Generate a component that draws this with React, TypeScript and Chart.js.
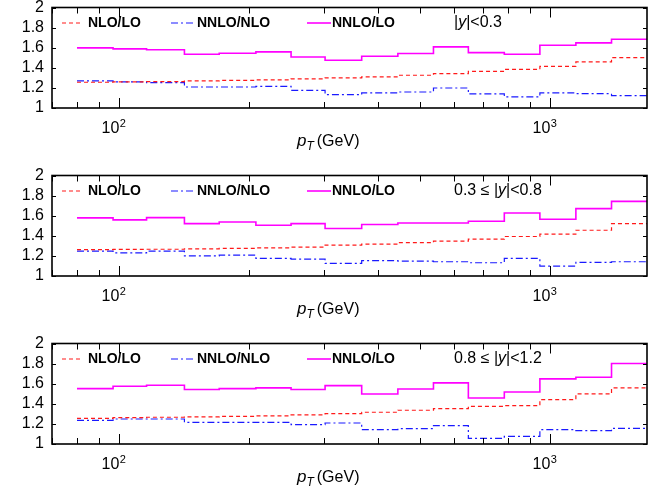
import React, { useEffect, useRef } from 'react';
import { Chart, registerables } from 'chart.js';

Chart.register(...registerables);

// pT bin edges (GeV), 16 bins
const BIN_EDGES = [80, 97, 116, 142, 171, 208, 251, 301, 366, 444, 537, 647, 784, 948, 1149, 1390, 1680];
const X_MIN = 70;
const X_MAX = 1680;
const X_TICKS = [70, 80, 90, 100, 200, 300, 400, 500, 600, 700, 800, 900, 1000];
const Y_MIN = 1;
const Y_MAX = 2;
const Y_STEP = 0.2;

const SERIES_NAMES = ['NLO/LO', 'NNLO/NLO', 'NNLO/LO'];
const X_TITLE_MAIN = 'p';
const X_TITLE_SUB = 'T';
const X_TITLE_UNIT = '(GeV)';

// rapidity label: prefix + |y| + suffix
const RAPIDITY_PRE = ['', '0.3 ≤ ', '0.8 ≤ '];
const RAPIDITY_POST = ['<0.3', '<0.8', '<1.2'];

// |y| < 0.3
const NLO_LO_1 = [1.256, 1.259, 1.263, 1.269, 1.274, 1.279, 1.289, 1.299, 1.309, 1.326, 1.342, 1.365, 1.385, 1.415, 1.458, 1.502];
const NNLO_NLO_1 = [1.269, 1.259, 1.252, 1.209, 1.209, 1.216, 1.176, 1.133, 1.150, 1.159, 1.199, 1.140, 1.110, 1.150, 1.143, 1.123];
const NNLO_LO_1 = [1.598, 1.588, 1.580, 1.535, 1.545, 1.558, 1.508, 1.475, 1.515, 1.542, 1.608, 1.551, 1.535, 1.625, 1.648, 1.684];

// 0.3 <= |y| < 0.8
const NLO_LO_2 = [1.262, 1.264, 1.266, 1.270, 1.274, 1.280, 1.287, 1.307, 1.317, 1.333, 1.347, 1.366, 1.393, 1.416, 1.455, 1.521];
const NNLO_NLO_2 = [1.248, 1.231, 1.248, 1.201, 1.208, 1.175, 1.168, 1.125, 1.152, 1.149, 1.142, 1.132, 1.175, 1.099, 1.135, 1.142];
const NNLO_LO_2 = [1.578, 1.558, 1.581, 1.521, 1.538, 1.505, 1.521, 1.472, 1.512, 1.528, 1.528, 1.545, 1.627, 1.564, 1.670, 1.743];

// 0.8 <= |y| < 1.2
const NLO_LO_3 = [1.255, 1.262, 1.266, 1.270, 1.274, 1.280, 1.290, 1.302, 1.316, 1.336, 1.352, 1.375, 1.382, 1.442, 1.498, 1.558];
const NNLO_NLO_3 = [1.236, 1.249, 1.249, 1.216, 1.216, 1.216, 1.193, 1.209, 1.143, 1.153, 1.183, 1.056, 1.076, 1.143, 1.133, 1.156];
const NNLO_LO_3 = [1.551, 1.575, 1.585, 1.542, 1.551, 1.558, 1.542, 1.581, 1.498, 1.548, 1.608, 1.458, 1.518, 1.648, 1.664, 1.801];

const PANELS = [
  [NLO_LO_1, NNLO_NLO_1, NNLO_LO_1],
  [NLO_LO_2, NNLO_NLO_2, NNLO_LO_2],
  [NLO_LO_3, NNLO_NLO_3, NNLO_LO_3],
];

const STYLES = [
  { color: '#ff1a1a', width: 1.2, dash: [4, 3] },
  { color: '#1a1aff', width: 1.2, dash: [7, 3, 2, 3] },
  { color: '#ff00ff', width: 1.6, dash: [] as number[] },
];

const FONT = '"Liberation Sans", Arial, Helvetica, sans-serif';
const CANVAS_W = 659;
const CANVAS_H = 158;
const PANEL_TOPS = [0, 168, 336];

function stepPoints(vals: number[]) {
  return BIN_EDGES.map((e, i) => ({ x: e, y: vals[Math.min(i, vals.length - 1)] }));
}

function makeOverlay(panel: number) {
  return {
    id: 'overlay' + panel,
    afterDraw(chart: any) {
      const { ctx, chartArea: a, scales } = chart;
      const xs = scales.x;
      const ys = scales.y;
      ctx.save();
      ctx.strokeStyle = '#000';
      ctx.lineWidth = 1;
      ctx.setLineDash([]);
      const line = (x1: number, y1: number, x2: number, y2: number) => {
        ctx.beginPath();
        ctx.moveTo(x1, y1);
        ctx.lineTo(x2, y2);
        ctx.stroke();
      };
      // inward x ticks
      for (const t of xs.ticks) {
        const px = Math.round(xs.getPixelForValue(t.value)) + 0.5;
        const lg = Math.log10(t.value);
        const major = Math.abs(lg - Math.round(lg)) < 1e-9;
        const len = major ? 10 : 6;
        line(px, a.bottom, px, a.bottom - len);
        line(px, a.top, px, a.top + len);
      }
      // inward y ticks
      for (const t of ys.ticks) {
        const py = Math.round(ys.getPixelForValue(t.value)) + 0.5;
        line(a.left, py, a.left + 4, py);
        line(a.right, py, a.right - 4, py);
      }
      // frame
      ctx.lineWidth = 1.6;
      ctx.strokeRect(a.left, a.top, a.right - a.left, a.bottom - a.top);

      // x tick labels (powers of ten)
      ctx.fillStyle = '#000';
      for (const t of xs.ticks) {
        const lg = Math.log10(t.value);
        if (Math.abs(lg - Math.round(lg)) > 1e-9) continue;
        const px = xs.getPixelForValue(t.value);
        ctx.font = '16px ' + FONT;
        ctx.textAlign = 'right';
        ctx.textBaseline = 'alphabetic';
        ctx.fillText('10', px + 0.5, a.bottom + 24.7);
        ctx.font = '11px ' + FONT;
        ctx.textAlign = 'left';
        ctx.fillText(String(Math.round(lg)), px + 1, a.bottom + 18.5);
      }

      // legend
      const ly = a.top + 15.5;
      const samples = [
        [a.left + 10, a.left + 30, a.left + 36],
        [a.left + 119, a.left + 141, a.left + 145],
        [a.left + 255, a.left + 279, a.left + 280],
      ];
      samples.forEach((s, i) => {
        const st = STYLES[i];
        ctx.strokeStyle = st.color;
        ctx.lineWidth = st.width;
        ctx.setLineDash(st.dash);
        line(s[0], ly, s[1], ly);
        ctx.setLineDash([]);
        ctx.fillStyle = '#000';
        ctx.font = 'bold 14px ' + FONT;
        ctx.textAlign = 'left';
        ctx.textBaseline = 'middle';
        ctx.fillText(SERIES_NAMES[i], s[2], ly);
      });

      // rapidity label
      let rx = a.left + 402;
      ctx.font = '16px ' + FONT;
      ctx.textBaseline = 'middle';
      const seg = (txt: string, font: string) => {
        ctx.font = font;
        ctx.fillText(txt, rx, ly);
        rx += ctx.measureText(txt).width;
      };
      seg(RAPIDITY_PRE[panel] + '|', '16px ' + FONT);
      seg('y', 'italic 16px ' + FONT);
      seg('|' + RAPIDITY_POST[panel], '16px ' + FONT);

      // x title
      let tx = a.left + 245;
      const tb = a.bottom + 37.5;
      ctx.textBaseline = 'alphabetic';
      ctx.font = 'italic 17px ' + FONT;
      ctx.fillText(X_TITLE_MAIN, tx, tb);
      tx += ctx.measureText(X_TITLE_MAIN).width;
      ctx.font = 'italic 12px ' + FONT;
      ctx.fillText(X_TITLE_SUB, tx, tb + 4);
      tx += ctx.measureText(X_TITLE_SUB).width + 3;
      ctx.font = '16px ' + FONT;
      ctx.fillText(X_TITLE_UNIT, tx, tb);
      ctx.restore();
    },
  };
}

function Panel({ index }: { index: number }) {
  const ref = useRef<HTMLCanvasElement | null>(null);
  useEffect(() => {
    if (!ref.current) return;
    const series = PANELS[index];
    const chart = new Chart(ref.current, {
      type: 'line',
      data: {
        datasets: series.map((vals, i) => ({
          label: SERIES_NAMES[i],
          data: stepPoints(vals),
          borderColor: STYLES[i].color,
          borderWidth: STYLES[i].width,
          borderDash: STYLES[i].dash,
          stepped: 'before' as const,
          pointRadius: 0,
          fill: false,
        })),
      },
      options: {
        animation: false,
        responsive: false,
        devicePixelRatio: 1,
        layout: { padding: { left: 0, right: 12, top: 7.5, bottom: 0 } },
        plugins: { legend: { display: false }, tooltip: { enabled: false } },
        scales: {
          x: {
            type: 'logarithmic',
            min: X_MIN,
            max: X_MAX,
            grid: { display: false, drawTicks: false },
            border: { display: false },
            ticks: { display: false, autoSkip: false },
            afterBuildTicks: (s: any) => {
              s.ticks = X_TICKS.map((v) => ({ value: v }));
            },
            afterFit: (s: any) => {
              s.height = 50;
              s.paddingLeft = 0;
              s.paddingRight = 0;
            },
          },
          y: {
            min: Y_MIN,
            max: Y_MAX,
            grid: { display: false, drawTicks: false },
            border: { display: false },
            ticks: {
              stepSize: Y_STEP,
              autoSkip: false,
              padding: 8,
              color: '#000',
              font: { family: FONT, size: 16, lineHeight: 1 },
              callback: (v: any) => String(Math.round(Number(v) * 10) / 10),
            },
            afterFit: (s: any) => {
              s.width = 52;
              s.paddingTop = 0;
              s.paddingBottom = 0;
            },
          },
        },
      },
      plugins: [makeOverlay(index)],
    });
    return () => chart.destroy();
  }, [index]);
  return (
    <canvas
      ref={ref}
      width={CANVAS_W}
      height={CANVAS_H}
      style={{ position: 'absolute', left: 0, top: PANEL_TOPS[index], width: CANVAS_W, height: CANVAS_H }}
    />
  );
}

export default function App() {
  return (
    <div style={{ position: 'absolute', left: 0, top: 0, width: CANVAS_W, height: 495, overflow: 'hidden', background: '#fff' }}>
      {[0, 1, 2].map((i) => (
        <Panel key={i} index={i} />
      ))}
    </div>
  );
}
